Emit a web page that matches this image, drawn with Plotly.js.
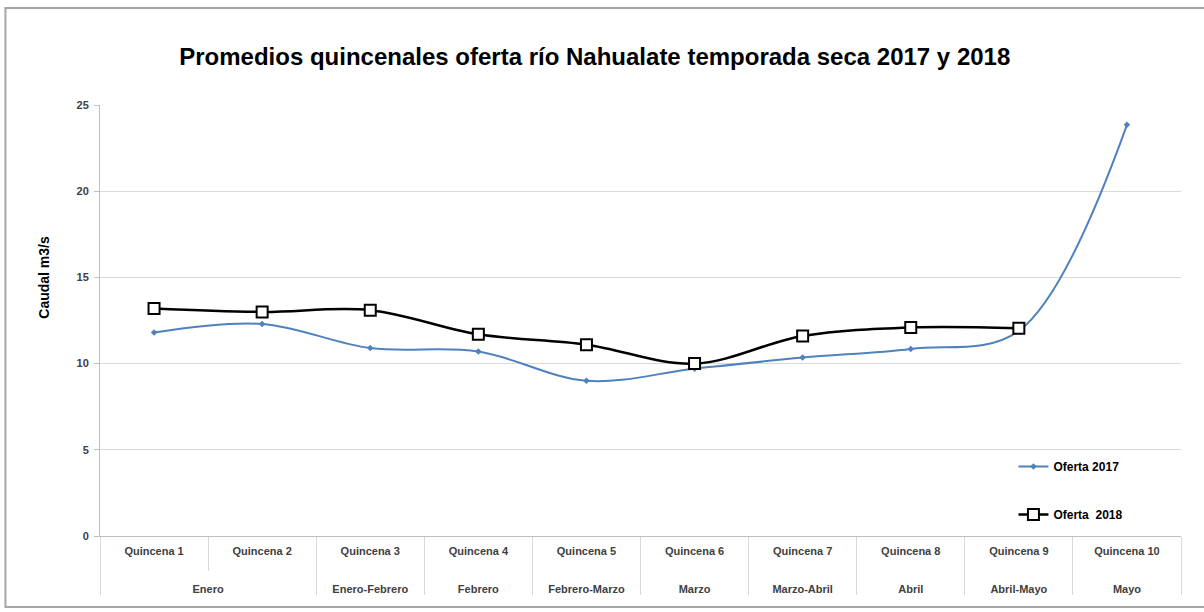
<!DOCTYPE html>
<html>
<head>
<meta charset="utf-8">
<script src="https://cdn.plot.ly/plotly-3.0.1.min.js"></script>
<style>
  html, body { margin: 0; padding: 0; background: #ffffff; }
  #chart { width: 1204px; height: 612px; }
</style>
</head>
<body>
<div id="chart"></div>
<script>
// ---- data ----
const quincenas = ["Quincena 1", "Quincena 2", "Quincena 3", "Quincena 4", "Quincena 5",
                   "Quincena 6", "Quincena 7", "Quincena 8", "Quincena 9", "Quincena 10"];
const meses = ["Enero", "Enero", "Enero-Febrero", "Febrero", "Febrero-Marzo",
               "Marzo", "Marzo-Abril", "Abril", "Abril-Mayo", "Mayo"];
const oferta2017 = [11.8, 12.3, 10.9, 10.7, 9.0, 9.7, 10.35, 10.85, 11.9, 23.85];
const oferta2018 = [13.2, 13.0, 13.1, 11.7, 11.1, 10.0, 11.6, 12.1, 12.05, null];
const yTicks = [0, 5, 10, 15, 20, 25];

const FONT = "Liberation Sans, Arial, sans-serif";
// month (second level) labels pushed down, as in the original two-row axis
const mesesLabel = meses.map(m => "<br><br>" + m);

const traces = [
  {
    name: "Oferta 2017",
    x: [mesesLabel, quincenas],
    y: oferta2017,
    type: "scatter",
    mode: "lines+markers",
    line: { color: "#4F81BD", width: 2, shape: "spline", smoothing: 1 },
    marker: { symbol: "diamond", size: 5, color: "#4F81BD" },
    legendgroup: "a"
  },
  {
    name: "Oferta  2018",
    x: [mesesLabel, quincenas],
    y: oferta2018,
    type: "scatter",
    mode: "lines+markers",
    line: { color: "#000000", width: 2.5, shape: "spline", smoothing: 1 },
    marker: { symbol: "square", size: 11, color: "#ffffff", line: { color: "#000000", width: 2 } },
    legendgroup: "b"
  }
];

const layout = {
  width: 1204,
  height: 612,
  paper_bgcolor: "#ffffff",
  plot_bgcolor: "#ffffff",
  margin: { l: 100, r: 23, t: 105, b: 76 },
  font: { family: FONT, color: "#404040" },
  title: {
    text: "Promedios quincenales oferta río Nahualate temporada seca 2017 y 2018",
    font: { family: FONT, size: 24, color: "#000000", weight: "bold" },
    x: 0.494, xanchor: "center",
    y: 0.908, yanchor: "middle"
  },
  xaxis: {
    type: "multicategory",
    range: [-0.5, 9.5],
    autorange: false,
    showgrid: false,
    showline: true,
    linecolor: "#BFBFBF",
    linewidth: 1,
    ticks: "outside",
    ticklen: 34,
    tickcolor: "#D9D9D9",
    ticklabelstandoff: 5,
    showdividers: true,
    dividercolor: "#D9D9D9",
    dividerwidth: 1,
    tickfont: { family: FONT, size: 11, color: "#404040", weight: "bold" },
    fixedrange: true
  },
  yaxis: {
    range: [0, 25],
    tickvals: yTicks,
    ticktext: yTicks.map(String),
    showgrid: true,
    gridcolor: "#D9D9D9",
    gridwidth: 1,
    zeroline: false,
    showline: true,
    linecolor: "#BFBFBF",
    ticks: "outside",
    ticklen: 5,
    tickcolor: "#BFBFBF",
    ticklabelstandoff: 3,
    tickfont: { family: FONT, size: 11, color: "#404040", weight: "bold" },
    fixedrange: true
  },
  annotations: [
    {
      text: "Caudal m3/s",
      xref: "paper", yref: "paper",
      x: -0.0515, y: 0.6,
      xanchor: "center", yanchor: "middle",
      textangle: -90,
      showarrow: false,
      font: { family: FONT, size: 14, color: "#000000", weight: "bold" }
    }
  ],
  showlegend: true,
  legend: {
    x: 0.845, xanchor: "left",
    y: 0.195, yanchor: "top",
    bgcolor: "rgba(0,0,0,0)",
    font: { family: FONT, size: 12, color: "#000000", weight: "bold" },
    traceorder: "grouped",
    tracegroupgap: 29
  },
  shapes: [
    {
      type: "rect", xref: "paper", yref: "paper",
      x0: -0.0875, x1: 1.05, y0: -0.165, y1: 1.225,
      line: { color: "#A6A6A6", width: 2 },
      fillcolor: "rgba(0,0,0,0)",
      layer: "below"
    }
  ]
};

Plotly.newPlot("chart", traces, layout, { displayModeBar: false, staticPlot: true });
</script>
</body>
</html>
